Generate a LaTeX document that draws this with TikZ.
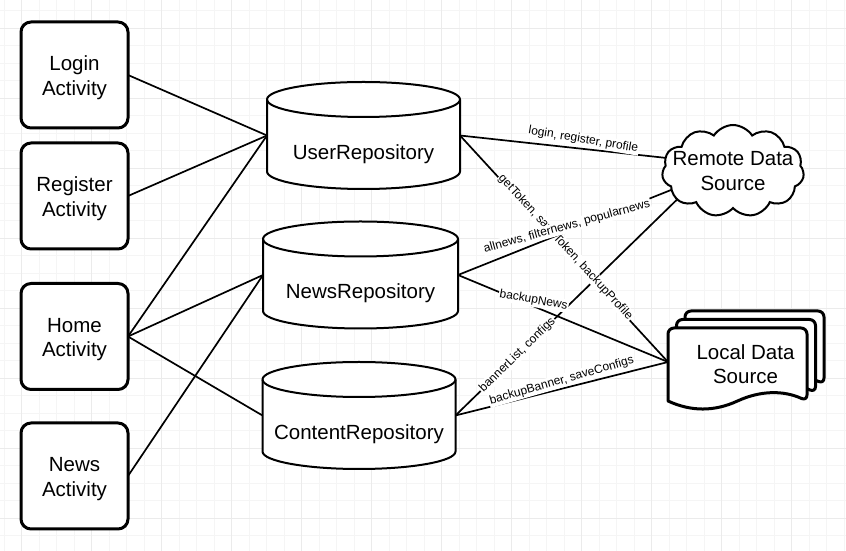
\documentclass[tikz,border=0pt]{standalone}
\usepackage{fontspec}
\setmainfont{Liberation Sans}
\usetikzlibrary{shapes.symbols,backgrounds}
\newcommand{\bigtxt}{\fontsize{20.5}{24.5}\selectfont}
\newcommand{\smalltxt}{\fontsize{12}{14}\selectfont}

\begin{document}
\begin{tikzpicture}[x=1pt, y=1pt,
  activity/.style={draw, line width=3pt, rounded corners=10pt, fill=white, minimum width=107pt, minimum height=106pt, align=center, font=\bigtxt, text height=45pt, inner sep=0pt, outer sep=0pt},
  repo/.style={minimum height=107pt, inner sep=0pt, outer sep=0pt},
  repotext/.style={font=\bigtxt, yshift=-18.5pt},
  cylline/.style={draw, line width=2pt, fill=white, line join=round},
  cloudnode/.style={cloud, cloud puffs=11, cloud puff arc=115, aspect=1.55, draw, line width=2pt, fill=white, minimum width=142pt, minimum height=92pt, inner sep=0pt, outer sep=0pt},
  docnode/.style={minimum width=139pt, inner sep=0pt, outer sep=0pt},
  page/.style={draw, line width=3pt, fill=white, line join=round},
  link/.style={line width=1.7pt},
  lbl/.style={font=\smalltxt, fill=white, inner sep=1pt},
  gridminor/.style={draw=black!4, line width=1pt},
  gridmajor/.style={draw=black!8, line width=1pt}
]
\useasboundingbox (0,0) rectangle (846,551);

% activities
\node[activity] (login) at (74.5,476) {Login\\Activity};
\node[activity] (register) at (74.5,355) {Register\\Activity};
\node[activity] (home) at (74.5,214.5) {Home\\Activity};
\node[activity] (newsact) at (74.5,75) {News\\Activity};

% repositories
\node[repo, minimum width=193pt, label={[repotext]center:UserRepository}] (user) at (363.5,415.5) {};
\node[repo, minimum width=195pt, label={[repotext]center:NewsRepository}] (news) at (360.5,276) {};
\node[repo, minimum width=193pt, label={[repotext]center:ContentRepository}] (content) at (359,135.5) {};

% data sources
\node[cloudnode, label={[font=\bigtxt, align=center]center:{Remote Data\\Source}}] (remote) at (733,380) {};
\node[docnode, label={[font=\bigtxt, align=center, xshift=8pt, yshift=-2pt]center:{Local Data\\Source}}] (local) at (737.5,189) {};

\begin{scope}[on background layer]
  % grid
  \foreach \gx in {4.2,21.7,...,846} \draw[gridminor] (\gx,0) -- (\gx,551);
  \foreach \gy in {540.2,522.7,...,0} \draw[gridminor] (0,\gy) -- (846,\gy);
  \foreach \gx in {21.7,91.7,...,846} \draw[gridmajor] (\gx,0) -- (\gx,551);
  \foreach \gy in {522.7,452.7,...,0} \draw[gridmajor] (0,\gy) -- (846,\gy);
  % cylinders
  \foreach \r/\w in {user/96.5pt, news/97.5pt, content/96.5pt} {
    \draw[cylline] ([yshift=-17.5pt]\r.north west) -- ([yshift=17.5pt]\r.south west)
      arc[start angle=180, end angle=360, x radius=\w, y radius=17.5pt]
      -- ([yshift=-17.5pt]\r.north east)
      arc[start angle=0, end angle=180, x radius=\w, y radius=17.5pt] -- cycle;
    \draw[cylline, fill=none] ([yshift=-17.5pt]\r.north west)
      arc[start angle=180, end angle=360, x radius=\w, y radius=17.5pt];
  }
  % stacked pages
  \foreach \s in {17,8.5,0}
    \draw[page] ([shift={(\s,\s)}]local.west) ++(0,-39) [rounded corners=6pt] -- ++(0,73) -- ++(139,0) -- ++(0,-73) [sharp corners]
      .. controls +(-23.2,10.7) and +(23.2,10.7) .. ++(-69.5,0)
      .. controls +(-23.2,-10.7) and +(23.2,-10.7) .. ++(-69.5,0) -- cycle;
\end{scope}

% activities to repositories
\draw[link] (login.east) -- (user.west);
\draw[link] (register.east) -- (user.west);
\draw[link] (home.east) -- (user.west);
\draw[link] (home.east) -- (news.west);
\draw[link] (home.east) -- (content.west);
\draw[link] (newsact.east) -- (news.west);

% repositories to sources
\draw[link] (content.east) -- node[lbl, pos=0.28, sloped] {bannerList, configs} (remote.207);
\draw[link] (user.east) -- node[lbl, pos=0.5, sloped, yshift=2pt] {getToken, saveToken, backupProfile} (local.west);
\draw[link] (news.east) -- node[lbl, pos=0.51, yshift=5pt, rotate=15.5] {allnews, filternews, popularnews} (remote.197);
\draw[link] (news.east) -- node[lbl, pos=0.36, yshift=6pt, rotate=-10] {backupNews} (local.west);
\draw[link] (content.east) -- node[lbl, pos=0.5, yshift=8pt, rotate=16] {backupBanner, saveConfigs} (local.west);
\draw[link] (user.east) -- node[lbl, pos=0.6, yshift=9pt, rotate=-9.4] {login, register, profile} (remote.169);
\end{tikzpicture}
\end{document}
